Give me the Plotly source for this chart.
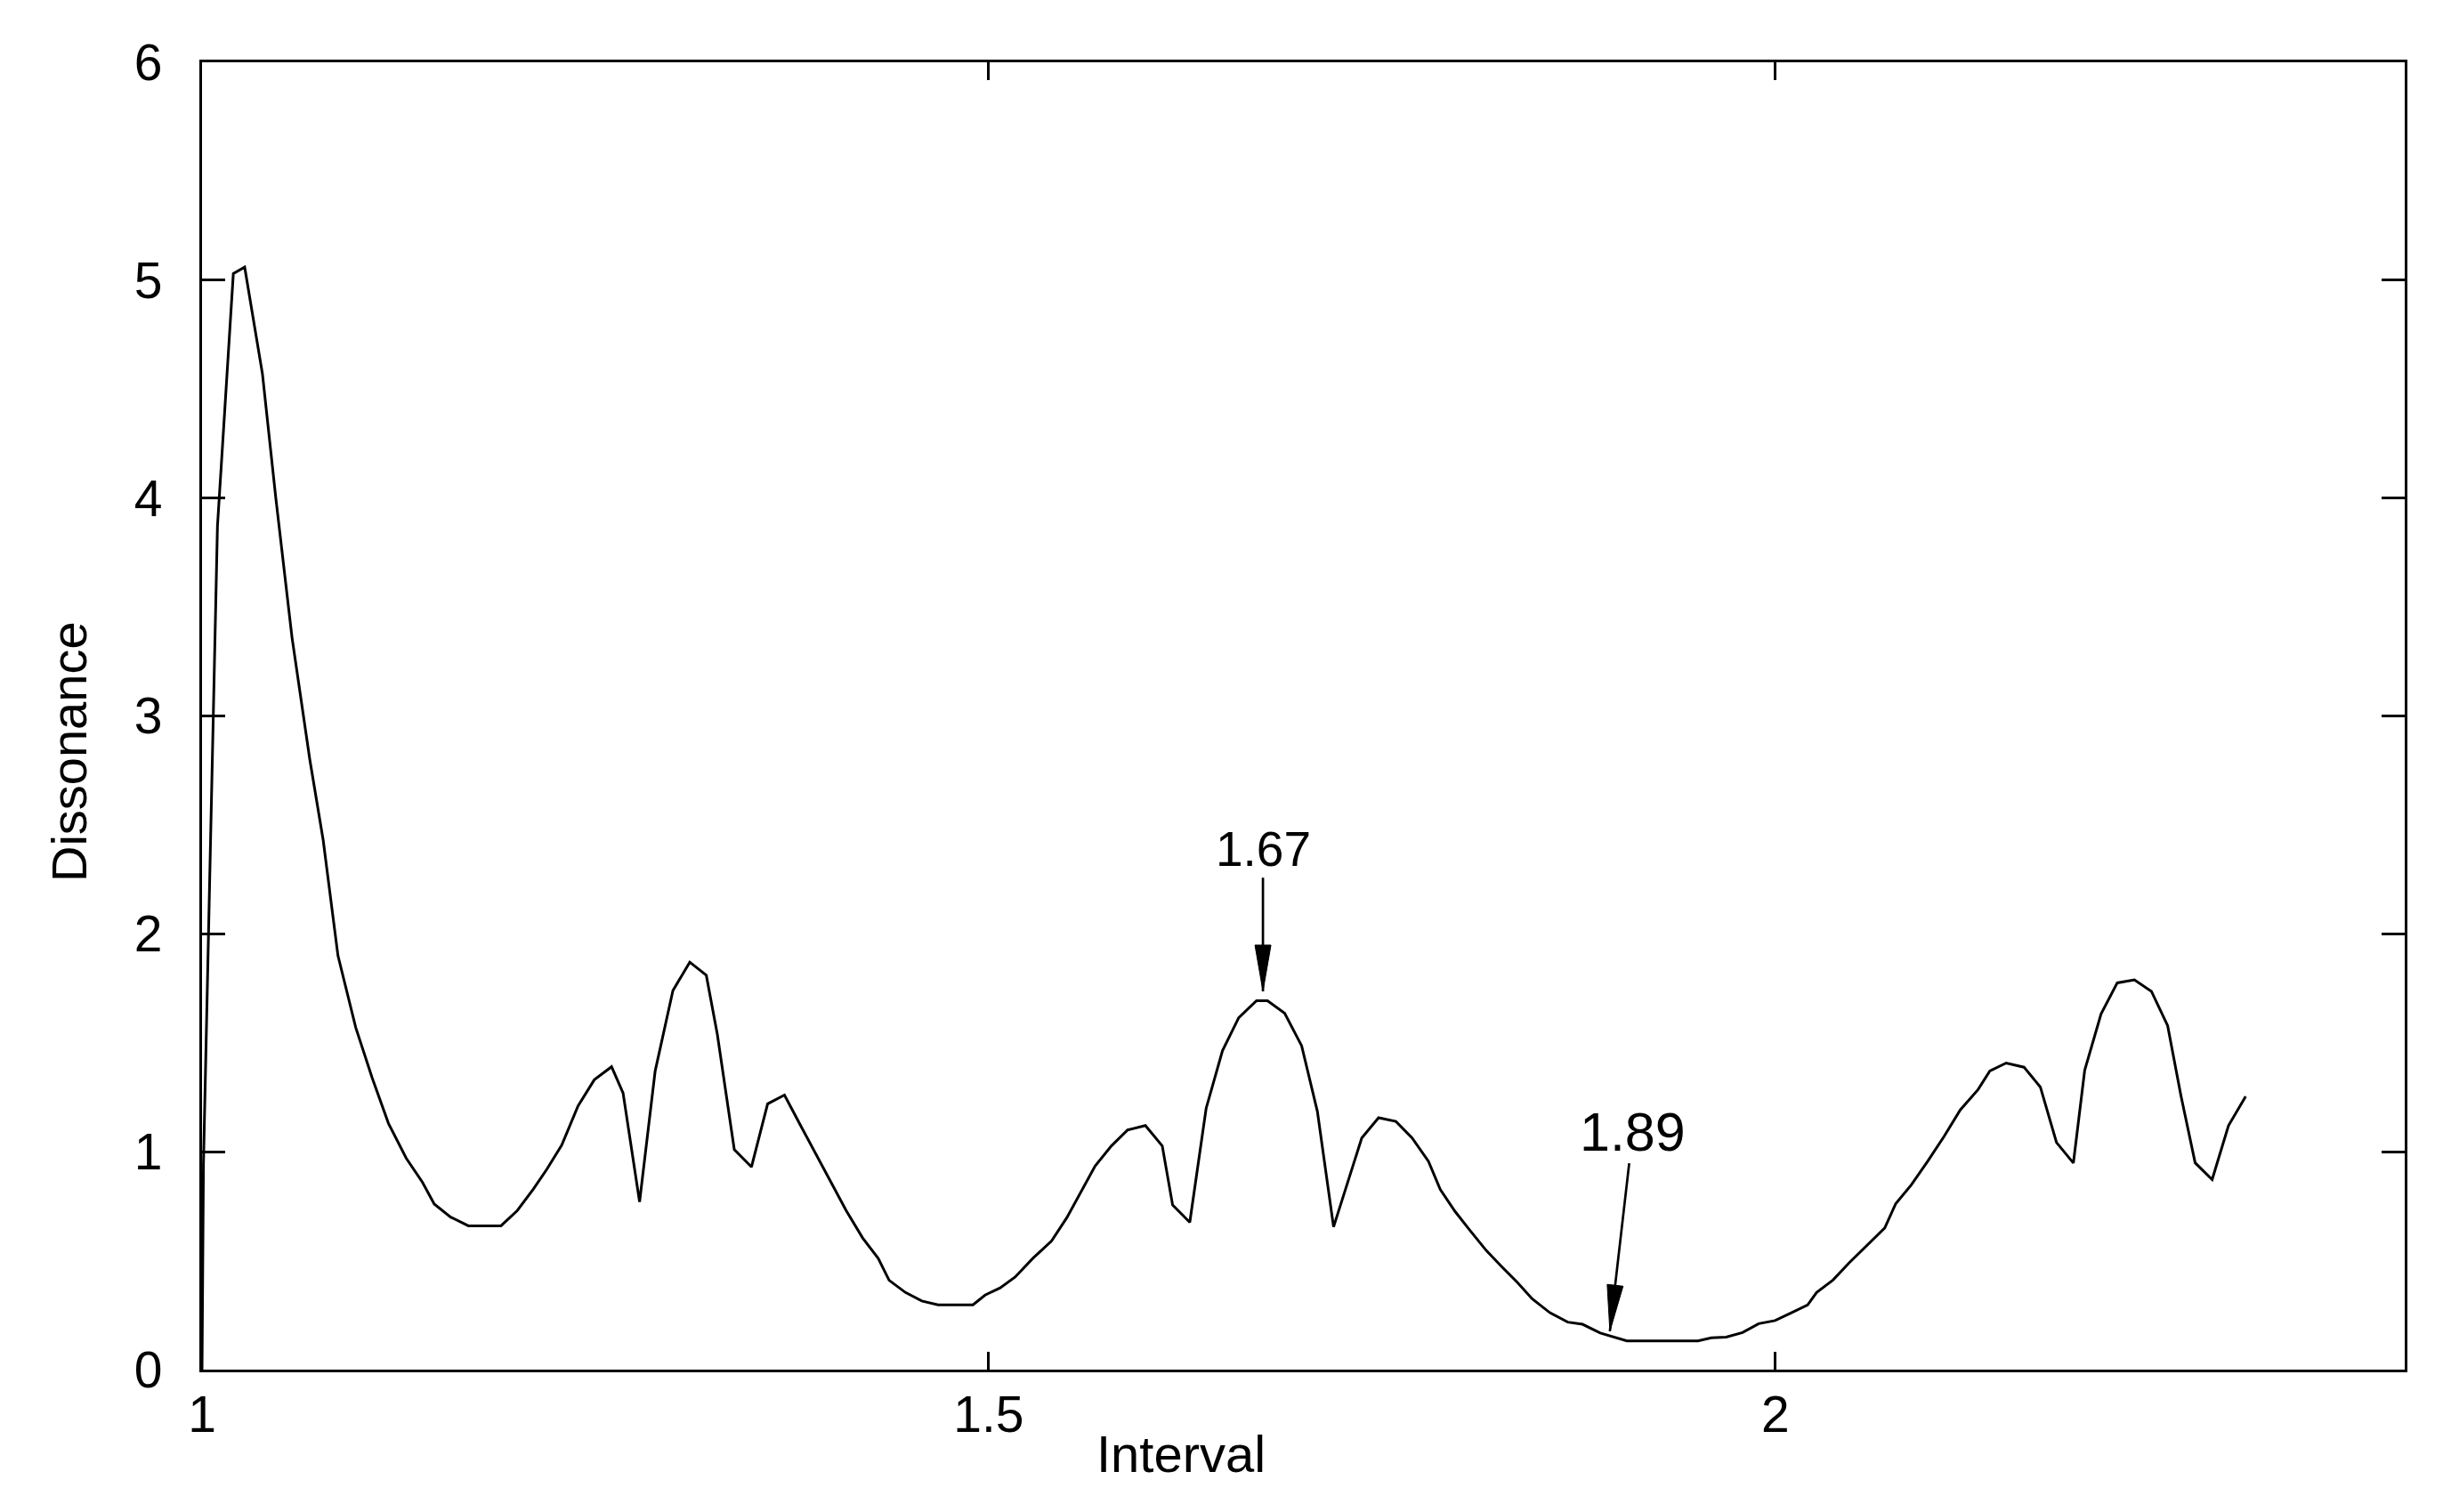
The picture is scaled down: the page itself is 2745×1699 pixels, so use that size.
import math
import plotly.graph_objects as go

# ---- data ----
interval = [
    1.0000, 1.0009, 1.0098, 1.0199, 1.0271, 1.0384, 1.0469, 1.0572, 1.0685, 1.0770,
    1.0864, 1.0977, 1.1081, 1.1185, 1.1298, 1.1401, 1.1476, 1.1580, 1.1693, 1.1900,
    1.2004, 1.2107, 1.2192, 1.2286, 1.2390, 1.2493, 1.2603, 1.2676, 1.2781, 1.2880,
    1.2993, 1.3100, 1.3205, 1.3275, 1.3383, 1.3492, 1.3595, 1.3702, 1.3812, 1.3915,
    1.4010, 1.4094, 1.4198, 1.4298, 1.4367, 1.4471, 1.4575, 1.4678, 1.4900, 1.4977,
    1.5073, 1.5168, 1.5281, 1.5399, 1.5497, 1.5582, 1.5676, 1.5780, 1.5883, 1.5996,
    1.6103, 1.6169, 1.6278, 1.6382, 1.6486, 1.6589, 1.6702, 1.6772, 1.6881, 1.6989,
    1.7089, 1.7192, 1.7371, 1.7478, 1.7588, 1.7691, 1.7795, 1.7870, 1.7964, 1.8058,
    1.8162, 1.8256, 1.8360, 1.8454, 1.8567, 1.8680, 1.8774, 1.8887, 1.9056, 1.9508,
    1.9593, 1.9687, 1.9791, 1.9894, 1.9998, 2.0102, 2.0205, 2.0262, 2.0366, 2.0469,
    2.0582, 2.0695, 2.0765, 2.0864, 2.0968, 2.1072, 2.1175, 2.1288, 2.1363, 2.1467,
    2.1580, 2.1684, 2.1787, 2.1894, 2.1966, 2.2070, 2.2173, 2.2282, 2.2390, 2.2493,
    2.2578, 2.2668, 2.2776, 2.2880, 2.2989,
]
dissonance = [
    0.00, 0.94, 3.87, 5.03, 5.06, 4.57, 4.00, 3.36, 2.80, 2.43,
    1.90, 1.57, 1.34, 1.13, 0.97, 0.86, 0.76, 0.70, 0.66, 0.66,
    0.73, 0.83, 0.92, 1.03, 1.21, 1.33, 1.39, 1.27, 0.77, 1.37,
    1.74, 1.87, 1.81, 1.54, 1.01, 0.93, 1.22, 1.26, 1.11, 0.97,
    0.84, 0.73, 0.605, 0.51, 0.41, 0.354, 0.315, 0.297, 0.297, 0.342,
    0.375, 0.425, 0.511, 0.59, 0.698, 0.812, 0.934, 1.027, 1.10, 1.12,
    1.027, 0.755, 0.676, 1.199, 1.464, 1.615, 1.693, 1.693, 1.636, 1.486,
    1.185, 0.655, 1.063, 1.156, 1.139, 1.063, 0.956, 0.827, 0.726, 0.640,
    0.547, 0.476, 0.40, 0.325, 0.261, 0.218, 0.208, 0.168, 0.132, 0.132,
    0.146, 0.149, 0.170, 0.211, 0.225, 0.261, 0.297, 0.354, 0.411, 0.49,
    0.57, 0.65, 0.762, 0.848, 0.956, 1.07, 1.192, 1.285, 1.371, 1.407,
    1.388, 1.297, 1.042, 0.948, 1.374, 1.632, 1.775, 1.789, 1.736, 1.579,
    1.256, 0.949, 0.872, 1.12, 1.254,
]

x_tick_vals = [1, 1.5, 2]
x_tick_text = ["1", "1.5", "2"]
y_tick_vals = [0, 1, 2, 3, 4, 5, 6]
y_tick_text = ["0", "1", "2", "3", "4", "5", "6"]

# annotations: arrow tip (on the curve) and label position
ann_text = ["1.67", "1.89"]
ann_tip_x = [1.6743, 1.8948]
ann_tip_y = [1.736, 0.176]
ann_label_x = [1.6743, 1.9094]
ann_label_y = [2.39, 1.092]
ann_font_size = [55, 61]

# ---- layout geometry ----
W, H = 2745, 1699
ML, MR, MT, MB = 227, 43, 70, 160
X_RANGE = [1.0, 2.4]
Y_RANGE = [0, 6]
plot_w = W - ML - MR
plot_h = H - MT - MB
pxx = plot_w / (X_RANGE[1] - X_RANGE[0])
pxy = plot_h / (Y_RANGE[1] - Y_RANGE[0])

FONT = "Liberation Sans, Arial, Helvetica, sans-serif"

fig = go.Figure()
fig.add_trace(go.Scatter(
    x=interval, y=dissonance, mode="lines",
    line=dict(color="black", width=3),
    showlegend=False, hoverinfo="skip",
))

annotations = []
shapes = []
HEAD_LEN = 52
HEAD_HALF = 9
for t, tx, ty, lx, ly, fs in zip(ann_text, ann_tip_x, ann_tip_y,
                                   ann_label_x, ann_label_y, ann_font_size):
    annotations.append(dict(
        x=tx, y=ty, ax=lx, ay=ly, xref="x", yref="y", axref="x", ayref="y",
        text=t, showarrow=True, arrowhead=0, arrowwidth=2.7, arrowcolor="black",
        font=dict(family=FONT, size=fs, color="black"),
    ))
    # narrow filled arrow head
    dxp = (lx - tx) * pxx
    dyp = (ly - ty) * pxy
    L = math.hypot(dxp, dyp)
    ux, uy = dxp / L, dyp / L
    perx, pery = -uy, ux
    bx, by = HEAD_LEN * ux, HEAD_LEN * uy
    c1 = (tx + (bx + HEAD_HALF * perx) / pxx, ty + (by + HEAD_HALF * pery) / pxy)
    c2 = (tx + (bx - HEAD_HALF * perx) / pxx, ty + (by - HEAD_HALF * pery) / pxy)
    shapes.append(dict(
        type="path", xref="x", yref="y",
        path=f"M {tx},{ty} L {c1[0]},{c1[1]} L {c2[0]},{c2[1]} Z",
        fillcolor="black", line=dict(color="black", width=1),
    ))

# axis titles placed as annotations to match the reference positions
annotations.append(dict(
    text="Interval", xref="paper", yref="paper", x=0.4444, y=-0.064,
    showarrow=False, xanchor="center", yanchor="middle",
    font=dict(family=FONT, size=58, color="black"),
))
annotations.append(dict(
    text="Dissonance", xref="paper", yref="paper", x=-0.0606, y=0.4724,
    showarrow=False, xanchor="center", yanchor="middle", textangle=-90,
    font=dict(family=FONT, size=56, color="black"),
))

fig.update_layout(
    width=W, height=H,
    margin=dict(l=ML, r=MR, t=MT, b=MB),
    paper_bgcolor="white", plot_bgcolor="white",
    showlegend=False,
    annotations=annotations,
    shapes=shapes,
)
fig.update_xaxes(
    range=X_RANGE, tickvals=x_tick_vals, ticktext=x_tick_text,
    ticks="inside", ticklen=20, tickwidth=3, tickcolor="black",
    showline=True, linecolor="black", linewidth=3.3, mirror="ticks",
    showgrid=False, zeroline=False,
    tickfont=dict(family=FONT, size=57, color="black"),
    ticklabelstandoff=-2,
)
fig.update_yaxes(
    range=Y_RANGE, tickvals=y_tick_vals, ticktext=y_tick_text,
    ticks="inside", ticklen=26, tickwidth=3, tickcolor="black",
    showline=True, linecolor="black", linewidth=3.3, mirror="ticks",
    showgrid=False, zeroline=False,
    tickfont=dict(family=FONT, size=57, color="black"),
    ticklabelstandoff=30,
)

fig.write_html(
    "out.html",
    config={"displayModeBar": False},
    post_script="document.body.style.margin='0';document.body.style.overflow='hidden';",
)
